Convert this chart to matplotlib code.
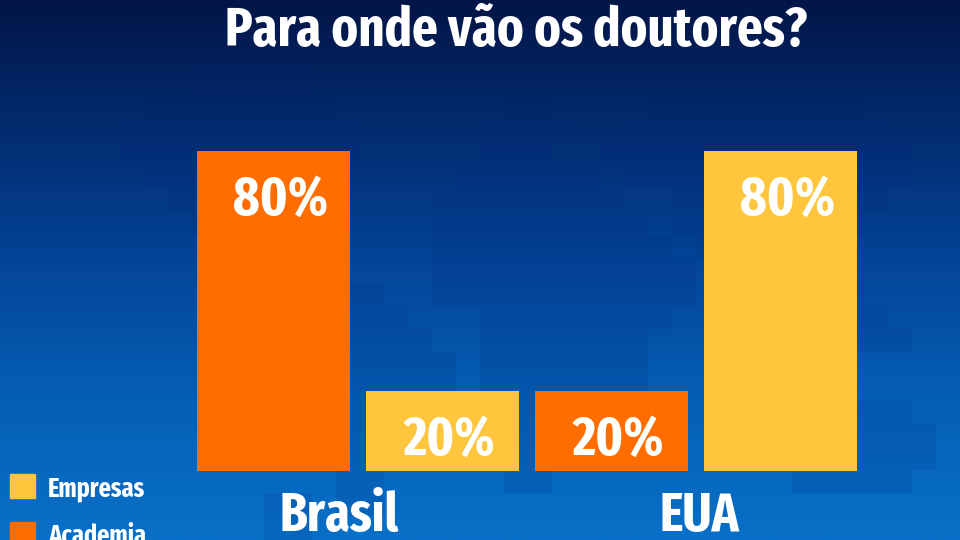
import numpy as np
import matplotlib
matplotlib.use("Agg")
import matplotlib.pyplot as plt
from matplotlib.colors import LinearSegmentedColormap

title = "Para onde vão os doutores?"
groups = ["Brasil", "EUA"]
academia = [80, 20]
empresas = [20, 80]
legend_labels = ["Empresas", "Academia"]

# background gradient colours, top to bottom
bg_stops = ["#021547", "#032d72", "#04469a", "#0560b6", "#0870c8"]

# faint world map behind the bars, one character per 24px cell
world_map = [
    "........................................",
    "........................................",
    "........................................",
    "........#####...........................",
    "......########.......##....#########....",
    ".....##########.....####..###########...",
    ".....##########.....###..#############..",
    "......########.....######.############..",
    ".......#######....########..#########...",
    "........#####.....#########.########....",
    ".........####.....##########.######.....",
    "..........####....###########.#####.....",
    "...........#####..###########..###.#....",
    ".............####...########.....#.##...",
    ".............#####..#######........###..",
    ".............######.#######.............",
    "..............#####.#######.............",
    "..............####...#####.......#####..",
    "..............###....####........######.",
    "..............###....###.........######.",
    "..............##.....##..........#####..",
    "...........##.##.........................",
    "...........##............................",
]

ORANGE = "#ff6c00"
YELLOW = "#ffc53d"
FONT = ["Fira Sans Extra Condensed", "Fira Sans Condensed", "PT Sans Narrow", "Open Sans"]
W, H = 960, 540

fig = plt.figure(figsize=(W / 100, H / 100), dpi=100)

# full-figure background
bg = fig.add_axes([0, 0, 1, 1], zorder=0)
bg.axis("off")
cmap = LinearSegmentedColormap.from_list("bg", bg_stops)
bg.imshow(np.linspace(0, 1, 512).reshape(-1, 1), aspect="auto", cmap=cmap, extent=(0, W, H, 0),
          interpolation="bilinear")
mask = np.array([[c == "#" for c in row[:40].ljust(40, ".")] for row in world_map], dtype=float)
overlay = np.zeros(mask.shape + (4,))
overlay[..., 0:3] = (0.01, 0.14, 0.48)
overlay[..., 3] = mask * 0.12
bg.imshow(overlay, aspect="auto", interpolation="nearest", extent=(0, W, H, 0))
bg.set_xlim(0, W)
bg.set_ylim(H, 0)

# axes in pixel terms: x 197..857, baseline at y=471, top (80) at y=151
ax = fig.add_axes([197 / W, (H - 471) / H, 660 / W, 320 / H], zorder=1)
ax.patch.set_alpha(0)
ax.axis("off")
ax.set_xlim(0, 660)
ax.set_ylim(0, 80)

bar_w = 153
x_academia = [76.5, 414.5]
x_empresas = [245.5, 583.5]
ax.bar(x_academia, academia, width=bar_w, color=ORANGE)
ax.bar(x_empresas, empresas, width=bar_w, color=YELLOW)

for xs, vals in [(x_academia, academia), (x_empresas, empresas)]:
    for x, v in zip(xs, vals):
        ax.text(x + 7, v - 16, f"{v}%", color="white", fontsize=39.5, fontweight="bold",
                family=FONT, ha="center", va="baseline")

ax.text(142, -15, groups[0], color="white", fontsize=39, fontweight="bold",
        family=FONT, ha="center", va="baseline", clip_on=False)
ax.text(502, -15, groups[1], color="white", fontsize=39, fontweight="bold",
        family=FONT, ha="center", va="baseline", clip_on=False)

fig.text(516 / W, 1 - 46 / H, title, color="white", fontsize=39.5, fontweight="bold",
         family=FONT, ha="center", va="baseline")

# legend, the last row runs off the bottom edge like the source frame
for y, col, lab in zip([474, 522], [YELLOW, ORANGE], legend_labels):
    fig.add_artist(plt.Rectangle((10 / W, 1 - (y + 24) / H), 25 / W, 24 / H, color=col,
                                 transform=fig.transFigure, zorder=3))
    fig.text(48 / W, 1 - (y + 22) / H, lab, color="white", fontsize=19, fontweight="bold",
             family=FONT, ha="left", va="baseline", zorder=3)

fig.savefig("out.png", dpi=100)
